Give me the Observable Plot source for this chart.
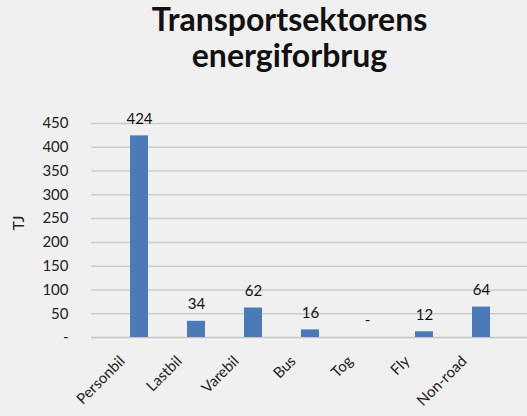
<!DOCTYPE html>
<html>
<head>
<meta charset="utf-8">
<script src="https://cdn.jsdelivr.net/npm/d3@7"></script>
<script src="https://cdn.jsdelivr.net/npm/@observablehq/plot@0.6"></script>
<style>
  html, body { margin: 0; padding: 0; background: #f0f0f0; }
  #title { width: 527px; height: 100px; box-sizing: border-box; padding-left: 52px; padding-top: 1px;
    text-align: center; font-family: Lato, sans-serif; font-weight: bold; font-size: 32px; line-height: 36px; color: #111; }
  #chart svg { display: block; }
</style>
</head>
<body>
<div id="title">Transportsektorens<br>energiforbrug</div>
<div id="chart"></div>
<script>
const categories = ["Personbil", "Lastbil", "Varebil", "Bus", "Tog", "Fly", "Non-road"];
const values = [424, 34, 62, 16, 0, 12, 64];
const yTicks = [0, 50, 100, 150, 200, 250, 300, 350, 400, 450];
const yTickLabels = ["-", "50", "100", "150", "200", "250", "300", "350", "400", "450"];
const valueLabels = ["424", "34", "62", "16", "-", "12", "64"];

const data = categories.map((c, i) => ({cat: c, value: values[i], label: valueLabels[i]}));

const plot = Plot.plot({
  width: 527,
  height: 316,
  marginTop: 23,
  marginBottom: 79,
  marginLeft: 91,
  marginRight: -3,
  style: {background: "#f0f0f0", fontFamily: "Lato, sans-serif", fontSize: "15px", color: "#222"},
  x: {domain: categories, padding: 0.68, label: null, axis: null},
  y: {domain: [0, 450], label: null, axis: null},
  marks: [
    Plot.gridY(yTicks.slice(1), {stroke: "#cccccc", strokeOpacity: 1, strokeWidth: 1.5}),
    Plot.ruleY([0], {stroke: "#c4c4c4", strokeWidth: 1.5}),
    Plot.axisY(yTicks, {tickSize: 0, tickPadding: 23, label: null, fontSize: 15,
      tickFormat: (d) => yTickLabels[yTicks.indexOf(d)]}),
    Plot.barY(data, {x: "cat", y: "value", fill: "#4a7ab8"}),
    Plot.text(data, {x: "cat", y: "value", text: "label", dy: -17, fontSize: 15, fill: "#111"}),
    Plot.text(data, {x: "cat", y: 0, text: "cat", dy: 21.2, dx: -17.2,
      rotate: -45, textAnchor: "end", fontSize: 15, letterSpacing: "0.8px", fill: "#222"}),
    Plot.text(["TJ"], {frameAnchor: "left", dx: -73, rotate: -90, fontSize: 16, fill: "#222"})
  ]
});
document.getElementById("chart").appendChild(plot);
</script>
</body>
</html>
